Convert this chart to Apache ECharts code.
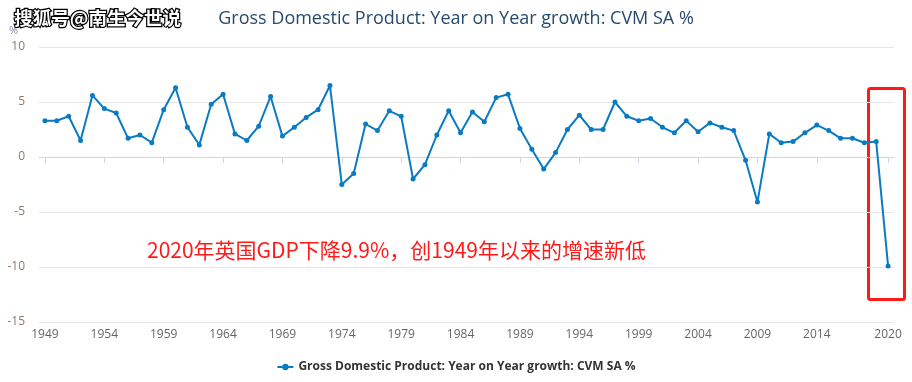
<!DOCTYPE html>
<html>
<head>
<meta charset="utf-8">
<script src="https://cdn.jsdelivr.net/npm/echarts@6/dist/echarts.min.js"></script>
<style>
html,body{margin:0;padding:0;background:#fff;}
#chart{width:912px;height:382px;}
</style>
</head>
<body>
<div id="chart"></div>
<script>
var years = [];
for (var y = 1949; y <= 2020; y++) years.push(String(y));

var gdpGrowth = [
  3.3, 3.3, 3.7, 1.5, 5.6, 4.4, 4.0, 1.7, 2.0, 1.3,
  4.3, 6.3, 2.7, 1.1, 4.8, 5.7, 2.1, 1.5, 2.8, 5.5,
  1.9, 2.7, 3.6, 4.3, 6.5, -2.5, -1.5, 3.0, 2.4, 4.2,
  3.7, -2.0, -0.7, 2.0, 4.2, 2.2, 4.1, 3.2, 5.4, 5.7,
  2.6, 0.7, -1.1, 0.4, 2.5, 3.8, 2.5, 2.5, 5.0, 3.7,
  3.3, 3.5, 2.7, 2.2, 3.3, 2.3, 3.1, 2.7, 2.4, -0.3,
  -4.1, 2.1, 1.3, 1.4, 2.2, 2.9, 2.4, 1.7, 1.7, 1.3,
  1.4, -9.9
];

var tickYears = ['1949','1954','1959','1964','1969','1974','1979','1984','1989','1994','1999','2004','2009','2014','2020'];

var titleText = 'Gross Domestic Product: Year on Year growth: CVM SA %';
var seriesName = 'Gross Domestic Product: Year on Year growth: CVM SA %';
var unitText = '%';
var noteText = '2020年英国GDP下降9.9%，创1949年以来的增速新低';
var watermark = '搜狐号@南生今世说';

function showTick(idx, val) { return tickYears.indexOf(val) >= 0; }

var chart = echarts.init(document.getElementById('chart'), null, {renderer: 'canvas'});
chart.setOption({
  backgroundColor: '#ffffff',
  animation: false,
  title: {
    text: titleText,
    left: 'center',
    top: 5,
    textStyle: {color: '#274b6d', fontSize: 18, fontWeight: 'normal', fontFamily: 'Open Sans'}
  },
  legend: {
    bottom: 4,
    left: 'center',
    itemWidth: 16,
    itemHeight: 8,
    textStyle: {color: '#333333', fontSize: 12, fontWeight: 'bold', fontFamily: 'Open Sans'},
    data: [seriesName]
  },
  grid: {left: 39, right: 18, top: 47, bottom: 60, containLabel: false},
  xAxis: {
    type: 'category',
    data: years,
    boundaryGap: true,
    axisLine: {lineStyle: {color: '#ccd6eb', width: 1}},
    axisTick: {show: true, alignWithLabel: true, interval: showTick, length: 6, lineStyle: {color: '#ccd6eb'}},
    axisLabel: {interval: showTick, color: '#666666', fontSize: 12, fontFamily: 'Open Sans', margin: 7},
    splitLine: {show: false}
  },
  yAxis: {
    type: 'value',
    min: -15, max: 10, interval: 5,
    axisLine: {show: false},
    axisTick: {show: false},
    axisLabel: {color: '#8f7a66', fontSize: 12, fontFamily: 'Open Sans', margin: 14},
    splitLine: {lineStyle: {color: '#e6e6e6', width: 1}}
  },
  series: [{
    name: seriesName,
    type: 'line',
    data: gdpGrowth,
    color: '#0a7bc2',
    lineStyle: {width: 2, color: '#0a7bc2'},
    symbol: 'circle',
    symbolSize: 5,
    showSymbol: true,
    showAllSymbol: true,
    itemStyle: {color: '#0a7bc2'}
  }],
  graphic: [
    {
      type: 'text', left: 13, top: 7,
      style: {text: watermark, fill: '#ffffff', stroke: '#000000', lineWidth: 2.5,
        font: 'bold 18.5px "Noto Sans CJK SC"'}
    },
    {
      type: 'text', left: 9, top: 25,
      style: {text: unitText, fill: '#8a82a8', font: '11px "Open Sans"'}
    },
    {
      type: 'text', left: 147, top: 240,
      style: {text: noteText, fill: '#ff1a1a', font: '21px "Noto Sans CJK SC"'}
    },
    {
      type: 'rect', left: 866, top: 86,
      shape: {width: 36, height: 211, r: 2},
      style: {fill: 'none', stroke: '#ff1a1a', lineWidth: 3}
    }
  ]
});
</script>
</body>
</html>
